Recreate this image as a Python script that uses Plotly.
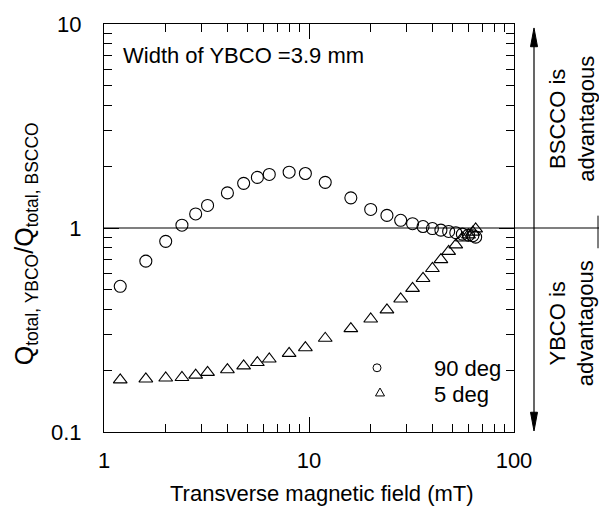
import plotly.graph_objects as go

# ---- data ----
field_90 = [1.2, 1.6, 2.0, 2.4, 2.8, 3.2, 4.0, 4.8, 5.6, 6.4, 8.0, 9.6, 12, 16, 20, 24,
            28, 32, 36, 40, 44, 48, 52, 56, 60, 63, 65]
ratio_90 = [0.518, 0.688, 0.860, 1.032, 1.172, 1.29, 1.486, 1.655, 1.77, 1.83, 1.877, 1.85,
            1.674, 1.405, 1.233, 1.153, 1.091, 1.05, 1.017, 0.994, 0.976, 0.962, 0.948,
            0.933, 0.923, 0.917, 0.902]
field_5 = [1.2, 1.6, 2.0, 2.4, 2.8, 3.2, 4.0, 4.8, 5.6, 6.4, 8.0, 9.6, 12, 16, 20, 24,
           28, 32, 36, 40, 44, 48, 52, 56, 60, 63, 65]
ratio_5 = [0.180, 0.182, 0.184, 0.185, 0.190, 0.196, 0.202, 0.211, 0.219, 0.228, 0.243,
           0.259, 0.288, 0.321, 0.358, 0.397, 0.449, 0.506, 0.566, 0.633, 0.70, 0.768,
           0.827, 0.894, 0.925, 0.955, 0.99]
x_ticks = [1, 10, 100]
x_ticklabels = ["1", "10", "100"]
y_ticks = [0.1, 1, 10]
y_ticklabels = ["0.1", "1", "10"]
legend_names = ["90 deg", "5 deg"]

W, H = 599, 506
L, R, T, B = 104, 514, 19, 432
FONT = "Liberation Sans, Arial, Helvetica, sans-serif"
FS = 22


def px(x):
    return (x - L) / (R - L)


def py(y):
    return (B - y) / (B - T)


minor_x = [m * 10 ** e for e in range(0, 2) for m in range(2, 10)]
minor_y = [m * 10 ** e for e in range(-1, 1) for m in range(2, 10)]

fig = go.Figure()
fig.add_trace(go.Scatter(x=field_90, y=ratio_90, mode="markers", name=legend_names[0],
                         marker=dict(symbol="circle-open", size=12, color="black",
                                     line=dict(width=1.1, color="black")),
                         showlegend=False))
fig.add_trace(go.Scatter(x=field_5, y=ratio_5, mode="markers", name=legend_names[1],
                         marker=dict(symbol="triangle-up-open", size=12, color="black",
                                     line=dict(width=1.1, color="black")),
                         showlegend=False))

tickfont = dict(family=FONT, size=FS, color="black")
axis_common = dict(type="log", showgrid=False, zeroline=False, showline=True,
                   linecolor="black", linewidth=1.2, mirror="ticks", ticks="inside",
                   ticklen=15, tickwidth=1.2, tickcolor="black", tickfont=tickfont)

fig.update_xaxes(range=[0, 2], tickvals=x_ticks, ticktext=x_ticklabels,
                 ticklabelstandoff=8,
                 minor=dict(tickvals=minor_x, ticks="inside", ticklen=8,
                            tickwidth=1.2, tickcolor="black"),
                 **axis_common)
fig.update_yaxes(range=[-1, 1], tickvals=y_ticks, ticktext=y_ticklabels,
                 ticklabelstandoff=17,
                 minor=dict(tickvals=minor_y, ticks="inside", ticklen=8,
                            tickwidth=1.2, tickcolor="black"),
                 **axis_common)

shapes = []
# ratio = 1 reference line, extending past the plot to the right edge
shapes.append(dict(type="line", xref="paper", yref="y", x0=0, x1=px(599), y0=1, y1=1,
                   line=dict(color="black", width=1.2)))
# small edge tick at right
shapes.append(dict(type="line", xref="paper", yref="paper", x0=px(598), x1=px(598),
                   y0=py(213), y1=py(246), line=dict(color="black", width=1)))
# double-headed vertical arrow
ax_x = 534
shapes.append(dict(type="line", xref="paper", yref="paper", x0=px(ax_x), x1=px(ax_x),
                   y0=py(38), y1=py(416), line=dict(color="black", width=1.2)))
hw, hl = 3.5, 19
shapes.append(dict(type="path", xref="paper", yref="paper",
                   path=f"M {px(ax_x)},{py(23)} L {px(ax_x - hw)},{py(23 + hl)} "
                        f"L {px(ax_x + hw)},{py(23 + hl)} Z",
                   fillcolor="black", line=dict(color="black", width=1)))
shapes.append(dict(type="path", xref="paper", yref="paper",
                   path=f"M {px(ax_x)},{py(431)} L {px(ax_x - hw)},{py(431 - hl)} "
                        f"L {px(ax_x + hw)},{py(431 - hl)} Z",
                   fillcolor="black", line=dict(color="black", width=1)))
# legend symbols
cx, cy, r = 377, 367, 4
shapes.append(dict(type="circle", xref="paper", yref="paper",
                   x0=px(cx - r), x1=px(cx + r), y0=py(cy + r), y1=py(cy - r),
                   line=dict(color="black", width=1)))
tx, ty = 380, 392
shapes.append(dict(type="path", xref="paper", yref="paper",
                   path=f"M {px(tx)},{py(ty - 4.5)} L {px(tx - 4.5)},{py(ty + 3.5)} "
                        f"L {px(tx + 4.5)},{py(ty + 3.5)} Z",
                   line=dict(color="black", width=1)))

tf = dict(family=FONT, size=FS, color="black")
ytitle = "Q<sub>total, YBCO</sub>/Q<sub>total, BSCCO</sub>"
annotations = [
    dict(text="Width of YBCO =3.9 mm", xref="paper", yref="paper", x=px(121), y=py(51),
         xanchor="left", yanchor="middle", showarrow=False, font=tf),
    dict(text=legend_names[0], xref="paper", yref="paper", x=px(432), y=py(368),
         xanchor="left", yanchor="middle", showarrow=False, font=tf),
    dict(text=legend_names[1], xref="paper", yref="paper", x=px(432), y=py(394),
         xanchor="left", yanchor="middle", showarrow=False, font=tf),
    dict(text="Transverse magnetic field (mT)", xref="paper", yref="paper",
         x=px(322), y=py(494), xanchor="center", yanchor="middle", showarrow=False,
         font=tf),
    dict(text=ytitle, xref="paper", yref="paper", x=px(26), y=py(242),
         xanchor="center", yanchor="middle", textangle=-90, showarrow=False,
         font=dict(family=FONT, size=25, color="black")),
    dict(text="BSCCO is<br>advantagous", xref="paper", yref="paper", x=px(572),
         y=py(115), xanchor="center", yanchor="middle", textangle=-90,
         showarrow=False, font=tf),
    dict(text="YBCO is<br>advantagous", xref="paper", yref="paper", x=px(572),
         y=py(322), xanchor="center", yanchor="middle", textangle=-90,
         showarrow=False, font=tf),
]

fig.update_layout(width=W, height=H, margin=dict(l=L, r=W - R, t=T, b=H - B),
                  paper_bgcolor="white", plot_bgcolor="white", showlegend=False,
                  shapes=shapes, annotations=annotations, font=tf)

fig.write_html("out.html")
